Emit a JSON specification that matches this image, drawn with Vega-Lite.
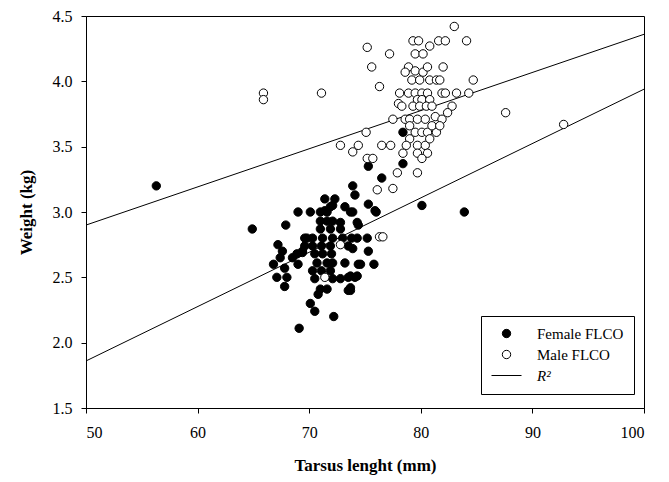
{
  "$schema": "https://vega.github.io/schema/vega-lite/v6.json",
  "autosize": "none",
  "width": 558,
  "height": 392,
  "padding": {"left": 86, "top": 16, "right": 25, "bottom": 74},
  "background": "white",
  "config": {
    "font": "Liberation Serif",
    "view": {"stroke": "black", "strokeWidth": 1},
    "axis": {
      "grid": false,
      "domainColor": "black",
      "tickColor": "black",
      "tickSize": 5,
      "labelFont": "Liberation Serif",
      "labelFontSize": 16,
      "labelColor": "black",
      "titleFont": "Liberation Serif",
      "titleFontSize": 17,
      "titleFontWeight": "bold",
      "titleColor": "black"
    }
  },
  "datasets": {
    "birds": [
      {"series": "Female FLCO", "tarsus": 56.3, "weight": 3.20},
      {"series": "Female FLCO", "tarsus": 64.9, "weight": 2.87},
      {"series": "Female FLCO", "tarsus": 78.4, "weight": 3.61},
      {"series": "Female FLCO", "tarsus": 75.3, "weight": 3.35},
      {"series": "Female FLCO", "tarsus": 78.4, "weight": 3.37},
      {"series": "Female FLCO", "tarsus": 76.5, "weight": 3.26},
      {"series": "Female FLCO", "tarsus": 75.9, "weight": 3.01},
      {"series": "Female FLCO", "tarsus": 80.1, "weight": 3.05},
      {"series": "Female FLCO", "tarsus": 83.9, "weight": 3.00},
      {"series": "Female FLCO", "tarsus": 67.9, "weight": 2.90},
      {"series": "Female FLCO", "tarsus": 69.0, "weight": 3.00},
      {"series": "Female FLCO", "tarsus": 67.2, "weight": 2.75},
      {"series": "Female FLCO", "tarsus": 67.6, "weight": 2.70},
      {"series": "Female FLCO", "tarsus": 66.8, "weight": 2.60},
      {"series": "Female FLCO", "tarsus": 67.4, "weight": 2.65},
      {"series": "Female FLCO", "tarsus": 67.1, "weight": 2.50},
      {"series": "Female FLCO", "tarsus": 68.0, "weight": 2.50},
      {"series": "Female FLCO", "tarsus": 67.8, "weight": 2.43},
      {"series": "Female FLCO", "tarsus": 67.8, "weight": 2.57},
      {"series": "Female FLCO", "tarsus": 68.5, "weight": 2.65},
      {"series": "Female FLCO", "tarsus": 69.0, "weight": 2.60},
      {"series": "Female FLCO", "tarsus": 69.4, "weight": 2.70},
      {"series": "Female FLCO", "tarsus": 69.8, "weight": 2.80},
      {"series": "Female FLCO", "tarsus": 70.1, "weight": 2.30},
      {"series": "Female FLCO", "tarsus": 70.5, "weight": 2.24},
      {"series": "Female FLCO", "tarsus": 70.8, "weight": 2.37},
      {"series": "Female FLCO", "tarsus": 71.6, "weight": 2.41},
      {"series": "Female FLCO", "tarsus": 72.2, "weight": 2.20},
      {"series": "Female FLCO", "tarsus": 69.1, "weight": 2.11},
      {"series": "Female FLCO", "tarsus": 71.4, "weight": 3.10},
      {"series": "Female FLCO", "tarsus": 72.3, "weight": 3.10},
      {"series": "Female FLCO", "tarsus": 71.0, "weight": 3.00},
      {"series": "Female FLCO", "tarsus": 71.9, "weight": 3.04},
      {"series": "Female FLCO", "tarsus": 73.2, "weight": 3.04},
      {"series": "Female FLCO", "tarsus": 73.9, "weight": 3.20},
      {"series": "Female FLCO", "tarsus": 74.1, "weight": 3.13},
      {"series": "Female FLCO", "tarsus": 73.9, "weight": 3.00},
      {"series": "Female FLCO", "tarsus": 74.4, "weight": 2.90},
      {"series": "Female FLCO", "tarsus": 74.3, "weight": 2.92},
      {"series": "Female FLCO", "tarsus": 75.3, "weight": 3.06},
      {"series": "Female FLCO", "tarsus": 76.0, "weight": 3.00},
      {"series": "Female FLCO", "tarsus": 75.2, "weight": 2.80},
      {"series": "Female FLCO", "tarsus": 75.3, "weight": 2.70},
      {"series": "Female FLCO", "tarsus": 75.8, "weight": 2.60},
      {"series": "Female FLCO", "tarsus": 74.4, "weight": 2.60},
      {"series": "Female FLCO", "tarsus": 74.1, "weight": 2.50},
      {"series": "Female FLCO", "tarsus": 73.7, "weight": 2.40},
      {"series": "Female FLCO", "tarsus": 73.5, "weight": 2.50},
      {"series": "Female FLCO", "tarsus": 72.1, "weight": 3.05},
      {"series": "Female FLCO", "tarsus": 71.4, "weight": 3.01},
      {"series": "Female FLCO", "tarsus": 73.7, "weight": 3.00},
      {"series": "Female FLCO", "tarsus": 70.1, "weight": 3.00},
      {"series": "Female FLCO", "tarsus": 71.6, "weight": 3.00},
      {"series": "Female FLCO", "tarsus": 71.0, "weight": 2.93},
      {"series": "Female FLCO", "tarsus": 71.6, "weight": 2.93},
      {"series": "Female FLCO", "tarsus": 72.1, "weight": 2.93},
      {"series": "Female FLCO", "tarsus": 72.8, "weight": 2.92},
      {"series": "Female FLCO", "tarsus": 71.0, "weight": 2.87},
      {"series": "Female FLCO", "tarsus": 71.9, "weight": 2.87},
      {"series": "Female FLCO", "tarsus": 72.8, "weight": 2.87},
      {"series": "Female FLCO", "tarsus": 71.2, "weight": 2.80},
      {"series": "Female FLCO", "tarsus": 72.1, "weight": 2.80},
      {"series": "Female FLCO", "tarsus": 73.0, "weight": 2.80},
      {"series": "Female FLCO", "tarsus": 73.8, "weight": 2.80},
      {"series": "Female FLCO", "tarsus": 69.6, "weight": 2.80},
      {"series": "Female FLCO", "tarsus": 70.3, "weight": 2.80},
      {"series": "Female FLCO", "tarsus": 74.3, "weight": 2.80},
      {"series": "Female FLCO", "tarsus": 69.6, "weight": 2.74},
      {"series": "Female FLCO", "tarsus": 70.3, "weight": 2.74},
      {"series": "Female FLCO", "tarsus": 71.1, "weight": 2.74},
      {"series": "Female FLCO", "tarsus": 71.9, "weight": 2.74},
      {"series": "Female FLCO", "tarsus": 73.5, "weight": 2.74},
      {"series": "Female FLCO", "tarsus": 73.9, "weight": 2.72},
      {"series": "Female FLCO", "tarsus": 68.9, "weight": 2.68},
      {"series": "Female FLCO", "tarsus": 69.4, "weight": 2.69},
      {"series": "Female FLCO", "tarsus": 70.5, "weight": 2.68},
      {"series": "Female FLCO", "tarsus": 71.2, "weight": 2.68},
      {"series": "Female FLCO", "tarsus": 72.0, "weight": 2.68},
      {"series": "Female FLCO", "tarsus": 70.7, "weight": 2.61},
      {"series": "Female FLCO", "tarsus": 71.6, "weight": 2.61},
      {"series": "Female FLCO", "tarsus": 72.1, "weight": 2.61},
      {"series": "Female FLCO", "tarsus": 73.2, "weight": 2.61},
      {"series": "Female FLCO", "tarsus": 74.6, "weight": 2.60},
      {"series": "Female FLCO", "tarsus": 70.3, "weight": 2.55},
      {"series": "Female FLCO", "tarsus": 71.1, "weight": 2.55},
      {"series": "Female FLCO", "tarsus": 71.9, "weight": 2.55},
      {"series": "Female FLCO", "tarsus": 70.5, "weight": 2.49},
      {"series": "Female FLCO", "tarsus": 73.7, "weight": 2.51},
      {"series": "Female FLCO", "tarsus": 74.3, "weight": 2.51},
      {"series": "Female FLCO", "tarsus": 72.1, "weight": 2.49},
      {"series": "Female FLCO", "tarsus": 72.8, "weight": 2.49},
      {"series": "Female FLCO", "tarsus": 71.0, "weight": 2.41},
      {"series": "Female FLCO", "tarsus": 73.5, "weight": 2.40},
      {"series": "Female FLCO", "tarsus": 73.7, "weight": 2.42},
      {"series": "Male FLCO", "tarsus": 83.0, "weight": 4.42},
      {"series": "Male FLCO", "tarsus": 79.3, "weight": 4.31},
      {"series": "Male FLCO", "tarsus": 79.8, "weight": 4.31},
      {"series": "Male FLCO", "tarsus": 81.6, "weight": 4.31},
      {"series": "Male FLCO", "tarsus": 82.2, "weight": 4.31},
      {"series": "Male FLCO", "tarsus": 84.1, "weight": 4.31},
      {"series": "Male FLCO", "tarsus": 80.8, "weight": 4.27},
      {"series": "Male FLCO", "tarsus": 75.2, "weight": 4.26},
      {"series": "Male FLCO", "tarsus": 77.2, "weight": 4.21},
      {"series": "Male FLCO", "tarsus": 79.5, "weight": 4.21},
      {"series": "Male FLCO", "tarsus": 80.2, "weight": 4.21},
      {"series": "Male FLCO", "tarsus": 75.6, "weight": 4.11},
      {"series": "Male FLCO", "tarsus": 78.9, "weight": 4.11},
      {"series": "Male FLCO", "tarsus": 79.5, "weight": 4.08},
      {"series": "Male FLCO", "tarsus": 80.2, "weight": 4.07},
      {"series": "Male FLCO", "tarsus": 80.6, "weight": 4.11},
      {"series": "Male FLCO", "tarsus": 82.0, "weight": 4.11},
      {"series": "Male FLCO", "tarsus": 78.6, "weight": 4.07},
      {"series": "Male FLCO", "tarsus": 79.2, "weight": 4.01},
      {"series": "Male FLCO", "tarsus": 79.9, "weight": 4.01},
      {"series": "Male FLCO", "tarsus": 80.8, "weight": 4.01},
      {"series": "Male FLCO", "tarsus": 81.4, "weight": 4.01},
      {"series": "Male FLCO", "tarsus": 81.7, "weight": 4.01},
      {"series": "Male FLCO", "tarsus": 84.7, "weight": 4.01},
      {"series": "Male FLCO", "tarsus": 76.3, "weight": 3.96},
      {"series": "Male FLCO", "tarsus": 78.1, "weight": 3.91},
      {"series": "Male FLCO", "tarsus": 78.9, "weight": 3.91},
      {"series": "Male FLCO", "tarsus": 79.5, "weight": 3.91},
      {"series": "Male FLCO", "tarsus": 80.1, "weight": 3.91},
      {"series": "Male FLCO", "tarsus": 80.6, "weight": 3.91},
      {"series": "Male FLCO", "tarsus": 81.9, "weight": 3.91},
      {"series": "Male FLCO", "tarsus": 82.2, "weight": 3.91},
      {"series": "Male FLCO", "tarsus": 83.2, "weight": 3.91},
      {"series": "Male FLCO", "tarsus": 84.3, "weight": 3.91},
      {"series": "Male FLCO", "tarsus": 78.0, "weight": 3.83},
      {"series": "Male FLCO", "tarsus": 78.3, "weight": 3.81},
      {"series": "Male FLCO", "tarsus": 79.7, "weight": 3.86},
      {"series": "Male FLCO", "tarsus": 80.1, "weight": 3.86},
      {"series": "Male FLCO", "tarsus": 80.8, "weight": 3.86},
      {"series": "Male FLCO", "tarsus": 79.3, "weight": 3.81},
      {"series": "Male FLCO", "tarsus": 79.9, "weight": 3.81},
      {"series": "Male FLCO", "tarsus": 80.5, "weight": 3.81},
      {"series": "Male FLCO", "tarsus": 81.0, "weight": 3.81},
      {"series": "Male FLCO", "tarsus": 82.8, "weight": 3.81},
      {"series": "Male FLCO", "tarsus": 82.4, "weight": 3.76},
      {"series": "Male FLCO", "tarsus": 77.5, "weight": 3.71},
      {"series": "Male FLCO", "tarsus": 78.6, "weight": 3.71},
      {"series": "Male FLCO", "tarsus": 79.0, "weight": 3.71},
      {"series": "Male FLCO", "tarsus": 79.7, "weight": 3.71},
      {"series": "Male FLCO", "tarsus": 80.4, "weight": 3.71},
      {"series": "Male FLCO", "tarsus": 81.3, "weight": 3.73},
      {"series": "Male FLCO", "tarsus": 81.9, "weight": 3.71},
      {"series": "Male FLCO", "tarsus": 75.1, "weight": 3.61},
      {"series": "Male FLCO", "tarsus": 79.0, "weight": 3.66},
      {"series": "Male FLCO", "tarsus": 79.5, "weight": 3.61},
      {"series": "Male FLCO", "tarsus": 80.1, "weight": 3.61},
      {"series": "Male FLCO", "tarsus": 80.6, "weight": 3.61},
      {"series": "Male FLCO", "tarsus": 81.4, "weight": 3.61},
      {"series": "Male FLCO", "tarsus": 81.0, "weight": 3.66},
      {"series": "Male FLCO", "tarsus": 81.7, "weight": 3.66},
      {"series": "Male FLCO", "tarsus": 74.4, "weight": 3.51},
      {"series": "Male FLCO", "tarsus": 76.5, "weight": 3.51},
      {"series": "Male FLCO", "tarsus": 77.3, "weight": 3.51},
      {"series": "Male FLCO", "tarsus": 79.0, "weight": 3.56},
      {"series": "Male FLCO", "tarsus": 79.7, "weight": 3.51},
      {"series": "Male FLCO", "tarsus": 80.4, "weight": 3.51},
      {"series": "Male FLCO", "tarsus": 80.8, "weight": 3.56},
      {"series": "Male FLCO", "tarsus": 78.7, "weight": 3.51},
      {"series": "Male FLCO", "tarsus": 78.4, "weight": 3.45},
      {"series": "Male FLCO", "tarsus": 79.7, "weight": 3.45},
      {"series": "Male FLCO", "tarsus": 80.6, "weight": 3.45},
      {"series": "Male FLCO", "tarsus": 80.1, "weight": 3.41},
      {"series": "Male FLCO", "tarsus": 75.2, "weight": 3.41},
      {"series": "Male FLCO", "tarsus": 75.7, "weight": 3.41},
      {"series": "Male FLCO", "tarsus": 77.9, "weight": 3.30},
      {"series": "Male FLCO", "tarsus": 79.7, "weight": 3.30},
      {"series": "Male FLCO", "tarsus": 76.1, "weight": 3.17},
      {"series": "Male FLCO", "tarsus": 77.5, "weight": 3.18},
      {"series": "Male FLCO", "tarsus": 72.8, "weight": 3.51},
      {"series": "Male FLCO", "tarsus": 73.9, "weight": 3.46},
      {"series": "Male FLCO", "tarsus": 65.9, "weight": 3.91},
      {"series": "Male FLCO", "tarsus": 65.9, "weight": 3.86},
      {"series": "Male FLCO", "tarsus": 71.1, "weight": 3.91},
      {"series": "Male FLCO", "tarsus": 87.6, "weight": 3.76},
      {"series": "Male FLCO", "tarsus": 92.8, "weight": 3.67},
      {"series": "Male FLCO", "tarsus": 76.3, "weight": 2.81},
      {"series": "Male FLCO", "tarsus": 76.6, "weight": 2.81},
      {"series": "Male FLCO", "tarsus": 72.8, "weight": 2.75},
      {"series": "Male FLCO", "tarsus": 71.4, "weight": 2.50}
    ],
    "fits": [
      {"fit": "Male", "tarsus": 50, "weight": 2.90},
      {"fit": "Male", "tarsus": 100, "weight": 4.36},
      {"fit": "Female", "tarsus": 50, "weight": 1.86},
      {"fit": "Female", "tarsus": 100, "weight": 3.94}
    ]
  },
  "layer": [
    {
      "data": {"name": "fits"},
      "mark": {"type": "line", "color": "black", "strokeWidth": 1, "clip": true},
      "encoding": {
        "x": {"field": "tarsus", "type": "quantitative"},
        "y": {"field": "weight", "type": "quantitative"},
        "detail": {"field": "fit"}
      }
    },
    {
      "data": {"name": "birds"},
      "mark": {"type": "point", "filled": false, "stroke": "black", "strokeWidth": 1, "opacity": 1, "size": 70},
      "encoding": {
        "x": {
          "field": "tarsus",
          "type": "quantitative",
          "scale": {"domain": [50, 100], "nice": false, "zero": false},
          "axis": {"values": [50, 60, 70, 80, 90, 100], "title": "Tarsus lenght (mm)", "labelPadding": 11, "titlePadding": 17}
        },
        "y": {
          "field": "weight",
          "type": "quantitative",
          "scale": {"domain": [1.5, 4.5], "nice": false, "zero": false},
          "axis": {"values": [1.5, 2.0, 2.5, 3.0, 3.5, 4.0, 4.5], "format": ".1f", "title": "Weight (kg)", "labelPadding": 9, "titlePadding": 17}
        },
        "fill": {
          "field": "series",
          "type": "nominal",
          "scale": {"domain": ["Female FLCO", "Male FLCO", "R²"], "range": ["black", "white", "transparent"]},
          "legend": {
            "title": null,
            "orient": "none",
            "legendX": 395,
            "legendY": 300,
            "direction": "vertical",
            "strokeColor": "black",
            "fillColor": "white",
            "padding": 10,
            "labelFont": "Liberation Serif",
            "labelFontSize": 15,
            "labelColor": "black",
            "symbolOffset": 8,
            "labelOffset": 23,
            "rowPadding": 5,
            "symbolStrokeColor": "black",
            "symbolStrokeWidth": 1,
            "symbolSize": {"expr": "datum.value === 'R²' ? 900 : 70"},
            "labelFontStyle": {"expr": "datum.value === 'R²' ? 'italic' : 'normal'"}
          }
        },
        "shape": {
          "field": "series",
          "type": "nominal",
          "scale": {"domain": ["Female FLCO", "Male FLCO", "R²"], "range": ["circle", "circle", "stroke"]}
        }
      }
    }
  ]
}
